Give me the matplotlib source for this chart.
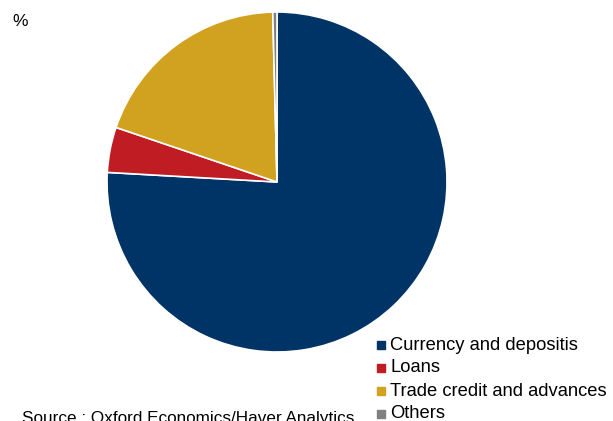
import matplotlib
matplotlib.use("Agg")
import matplotlib.pyplot as plt
from matplotlib.patches import Rectangle

plt.rcParams['font.family'] = ['Liberation Sans', 'DejaVu Sans']

labels = ["Currency and depositis", "Loans", "Trade credit and advances", "Others"]
shares = [75.9, 4.3, 19.4, 0.4]
colors = ["#003366", "#C01C24", "#D1A220", "#808080"]

W, H = 613, 421
fig = plt.figure(figsize=(W / 100, H / 100), dpi=100)

# pie axes: centre (277,182) px, radius 170 px
cx, cy, r = 277, 182, 170
ax = fig.add_axes([(cx - r) / W, (H - cy - r) / H, 2 * r / W, 2 * r / H])
ax.pie(shares, colors=colors, startangle=90, counterclock=False,
       wedgeprops=dict(edgecolor="white", linewidth=1.2))
ax.set_xlim(-1, 1)
ax.set_ylim(-1, 1)
ax.set_aspect("equal")
ax.axis("off")

# title mostly cut off at the top
fig.text(30 / W, 1 + 1.5 / H, "Households' financial assets in total",
         fontsize=15, color="#707070", fontweight="bold", va="baseline")
fig.text(12 / W, 1 - 26 / H, "%", fontsize=12.5, color="black")

# legend
for i, lab in enumerate(labels):
    y = 345 + 23 * i
    fig.patches.append(Rectangle((377 / W, 1 - (y + 4) / H), 8 / W, 8 / H,
                                 transform=fig.transFigure, color=colors[i]))
    fig.text(390 / W, 1 - y / H, lab, fontsize=13.2, va="center", color="black")

fig.text(22 / W, 1 - 423 / H, "Source : Oxford Economics/Haver Analytics",
         fontsize=12.3, va="baseline", color="black")

fig.savefig("out.png", dpi=100)
